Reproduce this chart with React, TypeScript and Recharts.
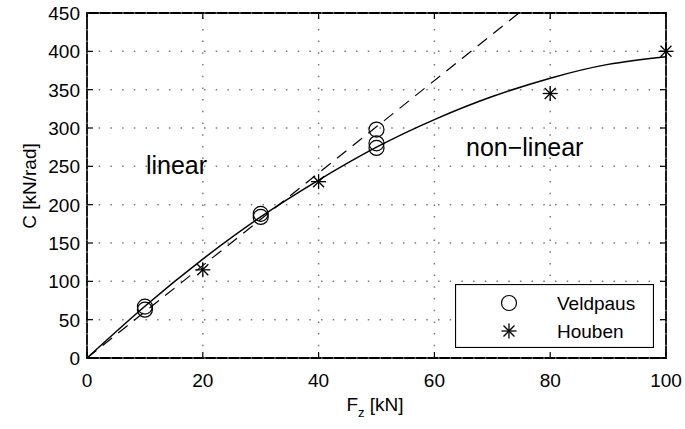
import React from 'react';
import { ComposedChart, XAxis, YAxis, Line, Scatter, ReferenceDot, ReferenceLine, ReferenceArea } from 'recharts';

const xTicks = [0, 20, 40, 60, 80, 100];
const yTicks = [0, 50, 100, 150, 200, 250, 300, 350, 400, 450];

const veldpaus = [
  { x: 10, y: 67 }, { x: 10, y: 63 },
  { x: 30, y: 188 }, { x: 30, y: 184 },
  { x: 50, y: 298 }, { x: 50, y: 280 }, { x: 50, y: 274 },
];
const houben = [
  { x: 20, y: 115 }, { x: 40, y: 230 }, { x: 80, y: 345 }, { x: 100, y: 400 },
];
const linearFit = [{ x: 0, y: 0 }, { x: 74.6, y: 450 }];
const nonLinearFit = [
  { x: 0, y: 0 }, { x: 10, y: 67.5 }, { x: 20, y: 129 }, { x: 30, y: 184 }, { x: 40, y: 232 },
  { x: 50, y: 275 }, { x: 60, y: 311 }, { x: 70, y: 341 }, { x: 80, y: 365 }, { x: 90, y: 383 }, { x: 100, y: 393 },
];

const FONT = 'Liberation Sans, Arial, sans-serif';
const GRID = { stroke: '#7a7a7a', strokeWidth: 1.5, strokeDasharray: '1.5 10.2' };

const Circle = (p: any) => (
  <circle cx={p.cx} cy={p.cy} r={7.5} fill="none" stroke="#000" strokeWidth={1.2} />
);
const Star = (p: any) => {
  const s = 7.5, d = 5.5;
  const { cx, cy } = p;
  return (
    <g stroke="#000" strokeWidth={1.3}>
      <line x1={cx - s} y1={cy} x2={cx + s} y2={cy} />
      <line x1={cx} y1={cy - s} x2={cx} y2={cy + s} />
      <line x1={cx - d} y1={cy - d} x2={cx + d} y2={cy + d} />
      <line x1={cx - d} y1={cy + d} x2={cx + d} y2={cy - d} />
    </g>
  );
};

const VGrid = (p: any) => {
  const top = Math.min(p.y1, p.y2), bot = Math.max(p.y1, p.y2);
  return (
    <g>
      <line x1={p.x1} y1={bot} x2={p.x1} y2={top} {...GRID} />
      <line x1={p.x1} y1={top} x2={p.x1} y2={top + 6} stroke="#000" strokeWidth={1.2} />
      <line x1={p.x1} y1={bot} x2={p.x1} y2={bot - 6} stroke="#000" strokeWidth={1.2} />
    </g>
  );
};
const HGrid = (p: any) => {
  const l = Math.min(p.x1, p.x2), r = Math.max(p.x1, p.x2);
  return (
    <g>
      <line x1={l} y1={p.y1} x2={r} y2={p.y1} {...GRID} />
      <line x1={l} y1={p.y1} x2={l + 6} y2={p.y1} stroke="#000" strokeWidth={1.2} />
      <line x1={r} y1={p.y1} x2={r - 6} y2={p.y1} stroke="#000" strokeWidth={1.2} />
    </g>
  );
};

const BottomTick = (p: any) => (
  <text x={p.x} y={p.y + 29} textAnchor="middle" fontSize={19} fontFamily={FONT} fill="#000">{p.payload.value}</text>
);
const LeftTick = (p: any) => (
  <text x={p.x - 7} y={p.y + 7} textAnchor="end" fontSize={19} fontFamily={FONT} fill="#000">{p.payload.value}</text>
);

const LegendBox = () => (
  <svg width={199} height={64} style={{ display: 'block' }}>
    <rect x={0.5} y={0.5} width={198} height={63} fill="#fff" stroke="#000" strokeWidth={1.2} />
    <Circle cx={54} cy={19} />
    <Star cx={54} cy={47} />
    <text x={102} y={26} fontSize={19} fontFamily={FONT} fill="#000">Veldpaus</text>
    <text x={102} y={54} fontSize={19} fontFamily={FONT} fill="#000">Houben</text>
  </svg>
);

export default function App() {
  return (
    <div style={{ position: 'absolute', left: 0, top: 0, width: 685, height: 429, background: '#fff' }}>
      <ComposedChart width={685} height={429} margin={{ top: 13, right: 19, bottom: 0, left: 0 }}>
        <XAxis dataKey="x" type="number" domain={[0, 100]} ticks={xTicks} height={71}
          axisLine={false} tickLine={false} tickSize={0} tickMargin={0}
          tick={<BottomTick />}
          label={{ content: () => (
            <text x={375} y={411} textAnchor="middle" fontSize={19} fontFamily={FONT} fill="#000">
              <tspan>F</tspan><tspan dy={6} fontSize={13}>z</tspan><tspan dy={-6}> [kN]</tspan>
            </text>
          ) }} />
        <YAxis type="number" domain={[0, 450]} ticks={yTicks} width={87}
          axisLine={false} tickLine={false} tickSize={0} tickMargin={0}
          tick={<LeftTick />}
          label={{ content: () => (
            <text x={36} y={186} textAnchor="middle" fontSize={19} fontFamily={FONT} fill="#000"
              transform="rotate(-90 36 186)">C [kN/rad]</text>
          ) }} />
        {xTicks.map((t) => (
          <ReferenceLine key={'vx' + t} x={t} shape={<VGrid />} />
        ))}
        {yTicks.map((t) => (
          <ReferenceLine key={'hy' + t} y={t} shape={<HGrid />} />
        ))}
        <ReferenceArea x1={0} x2={100} y1={0} y2={450} fill="none" fillOpacity={0} stroke="#000" strokeWidth={1.8} />
        <Line data={linearFit} dataKey="y" type="linear" stroke="#000" strokeWidth={1.2}
          strokeDasharray="12 8" dot={false} isAnimationActive={false} legendType="none" />
        <Line data={nonLinearFit} dataKey="y" type="natural" stroke="#000" strokeWidth={1.5}
          dot={false} isAnimationActive={false} legendType="none" />
        <Scatter name="Veldpaus" data={veldpaus} dataKey="y" shape={<Circle />} isAnimationActive={false} />
        <Scatter name="Houben" data={houben} dataKey="y" shape={<Star />} isAnimationActive={false} />
        <ReferenceDot x={15.46} y={251} r={0}
          label={{ value: 'linear', fontSize: 25, fontFamily: FONT, fill: '#000', position: 'center' }} />
        <ReferenceDot x={75.6} y={274.6} r={0}
          label={{ value: 'non\u2212linear', fontSize: 25, fontFamily: FONT, fill: '#000', position: 'center' }} />
      </ComposedChart>
      <div style={{ position: 'absolute', left: 455, top: 284 }}>
        <LegendBox />
      </div>
    </div>
  );
}
